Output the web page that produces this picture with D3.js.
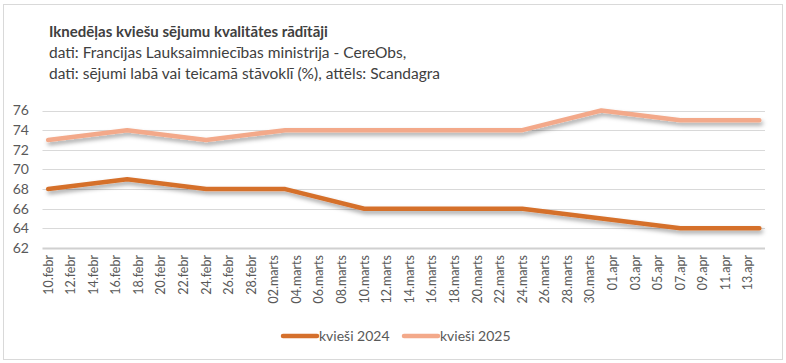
<!DOCTYPE html>
<html>
<head>
<meta charset="utf-8">
<script src="https://cdn.jsdelivr.net/npm/d3@7"></script>
<style>
  body { margin: 0; background: #fff; }
  text { font-family: Lato, "Noto Sans", sans-serif; }
</style>
</head>
<body>
<div id="chart"></div>
<script>
// weekly observations (2025 calendar dates on the axis)
var dates = ["2025-02-10", "2025-02-17", "2025-02-24", "2025-03-03", "2025-03-10",
             "2025-03-17", "2025-03-24", "2025-03-31", "2025-04-07", "2025-04-14"];
var wheat2024 = [68, 69, 68, 68, 66, 66, 66, 65, 64, 64];
var wheat2025 = [73, 74, 73, 74, 74, 74, 74, 76, 75, 75];
var seriesNames = ["kvieši 2024", "kvieši 2025"];
var yTicks = [62, 64, 66, 68, 70, 72, 74, 76];
var monthNames = ["", "febr", "marts", "apr"]; // index = month number - 1
var titleText = "Iknedēļas kviešu sējumu kvalitātes rādītāji";
var subtitleLines = ["dati: Francijas Lauksaimniecības ministrija - CereObs,",
                     "dati: sējumi labā vai teicamā stāvoklī (%), attēls: Scandagra"];

var chart_width = 786;
var chart_height = 363;
var colors = ["#D5702C", "#F3A98A"];

var parse = d3.timeParse("%Y-%m-%d");
var dayList = dates.map(parse);

var svg = d3.select('#chart')
  .append('svg')
  .attr('width', chart_width)
  .attr('height', chart_height);

// drop shadow like Excel's outer shadow
var defs = svg.append('defs');
defs.append('filter')
  .attr('id', 'shadow')
  .attr('x', '-5%').attr('y', '-50%')
  .attr('width', '110%').attr('height', '200%')
  .append('feDropShadow')
  .attr('dx', 1.5).attr('dy', 3)
  .attr('stdDeviation', 2)
  .attr('flood-color', '#000')
  .attr('flood-opacity', 0.35);

// chart border
svg.append('rect')
  .attr('x', 3.5).attr('y', 4.5)
  .attr('width', 779).attr('height', 355)
  .attr('fill', 'none')
  .attr('stroke', '#d9d9d9');

// titles
svg.append('text')
  .attr('x', 49).attr('y', 37)
  .attr('font-size', 15).attr('font-weight', 'bold')
  .attr('fill', '#404040')
  .text(titleText);

svg.selectAll('.sub')
  .data(subtitleLines)
  .enter()
  .append('text')
  .attr('class', 'sub')
  .attr('x', 49)
  .attr('y', function(d, i) { return 58 + i * 21; })
  .attr('font-size', 15.5)
  .attr('fill', '#404040')
  .text(function(d) { return d; });

// scales (date axis, each day is a band -> pad half a day each side)
var first = dayList[0];
var last = dayList[dayList.length - 1];
var x_scale = d3.scaleTime()
  .domain([d3.timeHour.offset(first, -12), d3.timeHour.offset(last, 12)])
  .range([42.5, 765]);

var y_scale = d3.scaleLinear()
  .domain([62, 76])
  .range([248, 110.5]);

// gridlines
svg.selectAll('.grid')
  .data(yTicks)
  .enter()
  .append('line')
  .attr('x1', 42.5).attr('x2', 765)
  .attr('y1', function(d) { return Math.round(y_scale(d)) + 0.5; })
  .attr('y2', function(d) { return Math.round(y_scale(d)) + 0.5; })
  .attr('stroke', function(d) { return d === 62 ? '#d0d0d0' : '#d9d9d9'; })
  .attr('stroke-width', function(d) { return d === 62 ? 2 : 1; });

// y labels
svg.selectAll('.ylab')
  .data(yTicks)
  .enter()
  .append('text')
  .attr('x', 29)
  .attr('y', function(d) { return y_scale(d); })
  .attr('dy', '0.35em')
  .attr('text-anchor', 'end')
  .attr('font-size', 14)
  .attr('fill', '#595959')
  .text(function(d) { return d; });

// x labels every 2 days
var tickDays = d3.range(0, 64, 2).map(function(n) { return d3.timeDay.offset(first, n); });
svg.selectAll('.xlab')
  .data(tickDays)
  .enter()
  .append('text')
  .attr('transform', function(d) {
    return 'translate(' + x_scale(d) + ',255) rotate(-90)';
  })
  .attr('dy', '0.35em')
  .attr('text-anchor', 'end')
  .attr('font-size', 12.5)
  .attr('fill', '#595959')
  .text(function(d) {
    return d3.timeFormat('%d')(d) + '.' + monthNames[d.getMonth()];
  });

// lines
var line = d3.line()
  .x(function(d) { return x_scale(d[0]); })
  .y(function(d) { return y_scale(d[1]); });

[wheat2024, wheat2025].forEach(function(vals, k) {
  svg.append('path')
    .datum(dayList.map(function(d, i) { return [d, vals[i]]; }))
    .attr('d', line)
    .attr('fill', 'none')
    .attr('stroke', colors[k])
    .attr('stroke-width', 4.5)
    .attr('stroke-linecap', 'round')
    .attr('stroke-linejoin', 'round')
    .attr('filter', 'url(#shadow)');
});

// legend
var legendX = [282, 403];
var legend = svg.selectAll('.leg')
  .data(seriesNames)
  .enter()
  .append('g')
  .attr('transform', function(d, i) { return 'translate(' + legendX[i] + ',336)'; });

legend.append('line')
  .attr('x1', 1).attr('x2', 35)
  .attr('stroke', function(d, i) { return colors[i]; })
  .attr('stroke-width', 4.5)
  .attr('stroke-linecap', 'round');

legend.append('text')
  .attr('x', 37)
  .attr('dy', '0.35em')
  .attr('font-size', 14)
  .attr('fill', '#595959')
  .text(function(d) { return d; });
</script>
</body>
</html>
